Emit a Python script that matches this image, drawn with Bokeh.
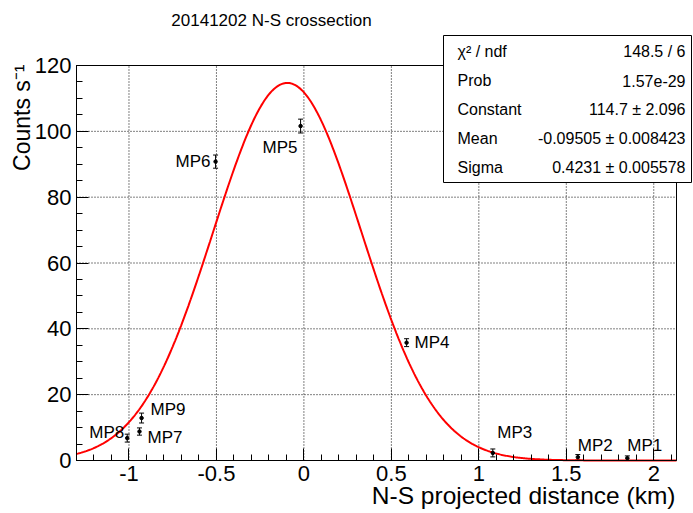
import math
import numpy as np
from bokeh.plotting import figure
from bokeh.models import (Range1d, FixedTicker, CustomJSTickFormatter, Label,
                          BoxAnnotation, Whisker, ColumnDataSource, TeeHead)
from bokeh.core.properties import value
from bokeh.embed import file_html
from bokeh.resources import INLINE

# ---------------- data ----------------
title_text = "20141202 N-S crossection"
x_label = "N-S projected distance (km)"
y_label = "Counts s\u207b\u00b9"

names = ["MP1", "MP2", "MP3", "MP4", "MP5", "MP6", "MP7", "MP8", "MP9"]
distance_km = [1.849, 1.566, 1.080, 0.587, -0.019, -0.505, -0.940, -1.010, -0.928]
counts = [0.7, 1.0, 2.3, 35.8, 101.6, 90.8, 8.8, 6.8, 12.9]
count_err = [0.7, 0.8, 1.2, 1.2, 2.1, 2.0, 1.1, 1.2, 1.5]

fit_constant = 114.7
fit_mean = -0.09505
fit_sigma = 0.4231

stat_names = ["\u03c7\u00b2 / ndf", "Prob", "Constant", "Mean", "Sigma"]
stat_values = ["148.5 / 6", "1.57e-29", "114.7 \u00b1 2.096",
               "-0.09505 \u00b1 0.008423", "0.4231 \u00b1 0.005578"]

x_ticks = [-1, -0.5, 0, 0.5, 1, 1.5, 2]
y_ticks = [0, 20, 40, 60, 80, 100, 120]

# ---------------- label styling (pixel offsets) ----------------
lbl_dx = [0, 0, 4.5, 8, -38, -5, 8, -38, 9]
lbl_dy = [-13, -12, -20, 0, 21, 0, 6, -6, -9]
lbl_align = ["left", "left", "left", "left", "left", "right", "left", "left", "left"]

FONT = "Liberation Sans"
X0, X1 = -1.3, 2.13
Y0, Y1 = 0, 120

# pixel layout of the data window inside the 693x513 canvas
W, H = 693, 513
FL, FR, FT, FB = 76, 676, 65, 460
kx = (FR - FL) / (X1 - X0)
ky = (FB - FT) / (Y1 - Y0)
x_range = Range1d(X0 - FL / kx, X1 + (W - FR) / kx)
y_range = Range1d(Y0 - (H - FB) / ky, Y1 + FT / ky)

p = figure(width=W, height=H, x_range=x_range, y_range=y_range,
           output_backend="svg", toolbar_location=None, title=None,
           min_border=0, min_border_left=0, min_border_right=0,
           min_border_top=0, min_border_bottom=0)
p.background_fill_color = "white"
p.border_fill_color = "white"
p.outline_line_color = None
p.grid.visible = False

x_minor = [round(-1.3 + 0.1 * i, 1) for i in range(35)]
y_minor = list(range(0, 121, 5))
p.xaxis.ticker = FixedTicker(ticks=x_ticks, minor_ticks=x_minor)
p.yaxis.ticker = FixedTicker(ticks=y_ticks, minor_ticks=y_minor)
p.xaxis.formatter = CustomJSTickFormatter(code="return String(tick)")
p.yaxis.formatter = CustomJSTickFormatter(code="return String(tick)")
p.xaxis.fixed_location = Y0
p.yaxis.fixed_location = X0
p.xaxis.bounds = (X0, X1)
p.yaxis.bounds = (Y0, Y1)

for ax in (p.xaxis, p.yaxis):
    ax.axis_line_color = "black"
    ax.major_tick_line_color = "black"
    ax.minor_tick_line_color = "black"
    ax.major_tick_in = 12
    ax.major_tick_out = 0
    ax.minor_tick_in = 6
    ax.minor_tick_out = 0
    ax.major_label_text_font = FONT
    ax.major_label_text_font_size = "22px"
    ax.major_label_text_color = "black"
p.xaxis.major_label_standoff = 5
p.yaxis.major_label_standoff = 5

# dotted grid at the major ticks, limited to the data window
p.segment(x0=x_ticks, y0=[Y0] * len(x_ticks), x1=x_ticks, y1=[Y1] * len(x_ticks),
          line_color="black", line_dash="1 2", line_width=1)
p.segment(x0=[X0] * len(y_ticks), y0=y_ticks, x1=[X1] * len(y_ticks), y1=y_ticks,
          line_color="black", line_dash="1 2", line_width=1)

# fit curve (Gaussian from the fitted parameters)
xs = np.linspace(X0, X1, 500)
ys = fit_constant * np.exp(-0.5 * ((xs - fit_mean) / fit_sigma) ** 2)
p.line(xs, ys, line_color="#ff0000", line_width=2)

# frame border
p.quad(left=[X0], right=[X1], bottom=[Y0], top=[Y1], fill_color=None,
       line_color="black", line_width=1)

src = ColumnDataSource(dict(
    x=distance_km, y=counts, name=names,
    upper=[c + e for c, e in zip(counts, count_err)],
    lower=[c - e for c, e in zip(counts, count_err)],
    dx=lbl_dx, dy=lbl_dy, align=lbl_align))

wh = Whisker(base="x", upper="upper", lower="lower", source=src, dimension="height",
             line_color="black", line_width=1,
             upper_head=TeeHead(size=5, line_color="black", line_width=1),
             lower_head=TeeHead(size=5, line_color="black", line_width=1))
p.add_layout(wh)
p.scatter("x", "y", source=src, size=3.5, color="black")

p.text(x="x", y="y", text="name", source=src, x_offset="dx", y_offset="dy",
       text_align="align", text_baseline="alphabetic",
       text_font=value(FONT), text_font_size="17px", text_color="black")


def scr(px, py):
    return dict(x=px, y=H - py, x_units="screen", y_units="screen")


# title and axis labels
p.add_layout(Label(**scr(271, 20), text=title_text,
                   text_font=FONT, text_font_size="17px", text_align="center",
                   text_baseline="middle", text_color="black"))
p.add_layout(Label(**scr(675, 495), text=x_label,
                   text_font=FONT, text_font_size="24.5px", text_align="right",
                   text_baseline="middle", text_color="black"))
p.add_layout(Label(**scr(21, 64), text=y_label,
                   angle=math.pi / 2, text_font=FONT, text_font_size="23px",
                   text_align="right", text_baseline="middle", text_color="black"))

# statistics box
p.add_layout(BoxAnnotation(left=443, right=691, top=H - 35, bottom=H - 182,
                           left_units="screen", right_units="screen",
                           top_units="screen", bottom_units="screen",
                           fill_color="white", fill_alpha=1.0,
                           line_color="black", line_width=1, line_alpha=1.0))
for i, (n, v) in enumerate(zip(stat_names, stat_values)):
    py = 51 + 29 * i
    p.add_layout(Label(**scr(457, py), text=n,
                       text_font=FONT, text_font_size="16px", text_align="left",
                       text_baseline="middle", text_color="black"))
    p.add_layout(Label(**scr(685, py), text=v,
                       text_font=FONT, text_font_size="16px", text_align="right",
                       text_baseline="middle", text_color="black"))

open("out.html", "w").write(file_html(p, INLINE))
